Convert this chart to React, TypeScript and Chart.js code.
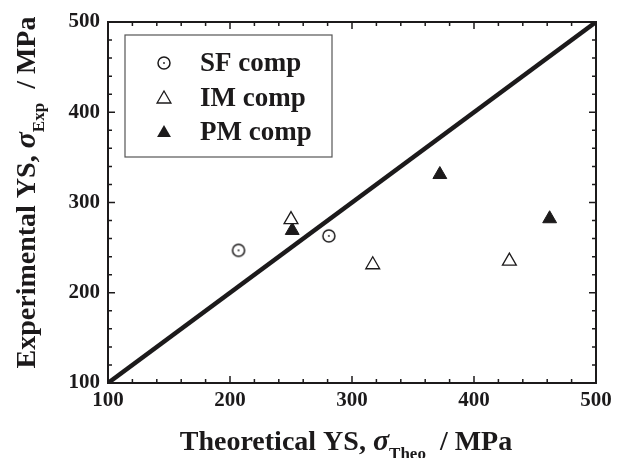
import React, { useEffect, useRef } from "react";
import { Chart, registerables } from "chart.js";

Chart.register(...registerables);

// ---- data ----
const SERIES_LABELS = ["SF comp", "IM comp", "PM comp"];
const SF_X = [207, 281];
const SF_Y = [247, 263];
const IM_X = [250, 317, 429];
const IM_Y = [281, 231, 235];
const PM_X = [251, 372, 462];
const PM_Y = [269, 331, 282];
const DIAG_X = [100, 500];
const DIAG_Y = [100, 500];
const X_TICKS = [100, 200, 300, 400, 500];
const Y_TICKS = [100, 200, 300, 400, 500];
const MINOR_STEP = 20;
const X_TITLE = ["Theoretical YS, ", "σ", "Theo", "  / MPa"];
const Y_TITLE = ["Experimental YS, ", "σ", "Exp", "  / MPa"];

const INK = "#1c1a1b";
const FONT = "'Liberation Serif', 'Times New Roman', serif";

function pts(xs: number[], ys: number[]) {
  return xs.map((x, i) => ({ x, y: ys[i] }));
}

function makeCircleDot(): HTMLCanvasElement {
  const c = document.createElement("canvas");
  c.width = 16;
  c.height = 16;
  const g = c.getContext("2d")!;
  g.fillStyle = "#fff";
  g.strokeStyle = INK;
  g.lineWidth = 1.5;
  g.beginPath();
  g.arc(8, 8, 6, 0, Math.PI * 2);
  g.fill();
  g.stroke();
  g.fillStyle = INK;
  g.beginPath();
  g.arc(8, 8, 0.9, 0, Math.PI * 2);
  g.fill();
  return c;
}

function drawTriangle(ctx: CanvasRenderingContext2D, x: number, y: number, r: number, filled: boolean) {
  ctx.beginPath();
  for (let i = 0; i < 3; i++) {
    const ang = (i * 2 * Math.PI) / 3;
    const px = x + Math.sin(ang) * r;
    const py = y - Math.cos(ang) * r;
    if (i === 0) ctx.moveTo(px, py);
    else ctx.lineTo(px, py);
  }
  ctx.closePath();
  if (filled) {
    ctx.fillStyle = INK;
    ctx.fill();
  } else {
    ctx.fillStyle = "#fff";
    ctx.fill();
    ctx.strokeStyle = INK;
    ctx.lineWidth = 1.3;
    ctx.stroke();
  }
}

type Part = { text: string; font: string; dy: number };

function drawRich(ctx: CanvasRenderingContext2D, parts: Part[], cx: number, baseY: number) {
  let total = 0;
  for (const p of parts) {
    ctx.font = p.font;
    total += ctx.measureText(p.text).width;
  }
  let x = cx - total / 2;
  ctx.textAlign = "left";
  ctx.textBaseline = "alphabetic";
  ctx.fillStyle = INK;
  for (const p of parts) {
    ctx.font = p.font;
    ctx.fillText(p.text, x, baseY + p.dy);
    x += ctx.measureText(p.text).width;
  }
}

function titleParts(t: string[]): Part[] {
  return [
    { text: t[0], font: `bold 28px ${FONT}`, dy: 0 },
    { text: t[1], font: `italic bold 30px ${FONT}`, dy: 0 },
    { text: t[2], font: `bold 17px ${FONT}`, dy: 9 },
    { text: t[3], font: `bold 28px ${FONT}`, dy: 0 },
  ];
}

const framePlugin = {
  id: "frameTicks",
  afterDatasetsDraw(chart: any) {
    const { ctx, chartArea: a, scales } = chart;
    const xs = scales.x;
    const ys = scales.y;
    ctx.save();
    ctx.strokeStyle = INK;
    ctx.lineWidth = 1.5;
    ctx.beginPath();
    const x0 = X_TICKS[0];
    const x1 = X_TICKS[X_TICKS.length - 1];
    for (let v = x0; v <= x1; v += MINOR_STEP) {
      const len = X_TICKS.includes(v) ? 7 : 4;
      const px = xs.getPixelForValue(v);
      ctx.moveTo(px, a.bottom);
      ctx.lineTo(px, a.bottom - len);
      ctx.moveTo(px, a.top);
      ctx.lineTo(px, a.top + len);
    }
    const y0 = Y_TICKS[0];
    const y1 = Y_TICKS[Y_TICKS.length - 1];
    for (let v = y0; v <= y1; v += MINOR_STEP) {
      const len = Y_TICKS.includes(v) ? 7 : 4;
      const py = ys.getPixelForValue(v);
      ctx.moveTo(a.left, py);
      ctx.lineTo(a.left + len, py);
      ctx.moveTo(a.right, py);
      ctx.lineTo(a.right - len, py);
    }
    ctx.stroke();
    ctx.lineWidth = 2;
    ctx.strokeRect(a.left, a.top, a.right - a.left, a.bottom - a.top);

    // legend
    const lx = a.left + 17;
    const ly = a.top + 13;
    const lw = 207;
    const lh = 122;
    ctx.fillStyle = "#fff";
    ctx.fillRect(lx, ly, lw, lh);
    ctx.strokeStyle = "#555";
    ctx.lineWidth = 1.2;
    ctx.strokeRect(lx, ly, lw, lh);
    const rows = [ly + 28, ly + 63, ly + 97];
    const circ = chart.data.datasets[0].pointStyle as HTMLCanvasElement;
    SERIES_LABELS.forEach((lab, i) => {
      const cy = rows[i];
      const mx = lx + 39;
      if (i === 0) ctx.drawImage(circ, Math.round(mx - circ.width / 2), Math.round(cy - circ.height / 2));
      else drawTriangle(ctx, mx, cy + 1, 8, i === 2);
      ctx.fillStyle = INK;
      ctx.font = `bold 27px ${FONT}`;
      ctx.textAlign = "left";
      ctx.textBaseline = "middle";
      ctx.fillText(lab, lx + 75, cy + 1);
    });

    // axis titles
    drawRich(ctx, titleParts(X_TITLE), (a.left + a.right) / 2 - 6, 450);
    ctx.save();
    ctx.translate(35, (a.top + a.bottom) / 2 - 10);
    ctx.rotate(-Math.PI / 2);
    drawRich(ctx, titleParts(Y_TITLE), 0, 0);
    ctx.restore();
    ctx.restore();
  },
};

export default function App() {
  const ref = useRef<HTMLCanvasElement>(null);
  useEffect(() => {
    if (!ref.current) return;
    const circle = makeCircleDot();
    const tickFont = { family: FONT, size: 21, weight: "bold" as const };
    const chart = new Chart(ref.current, {
      type: "scatter",
      data: {
        datasets: [
          {
            label: SERIES_LABELS[0],
            data: pts(SF_X, SF_Y),
            pointStyle: circle as any,
            pointRadius: 6,
            order: 0,
          },
          {
            label: SERIES_LABELS[1],
            data: pts(IM_X, IM_Y),
            pointStyle: "triangle",
            pointRadius: 8,
            borderColor: INK,
            backgroundColor: "#fff",
            borderWidth: 1.3,
            order: 0,
          },
          {
            label: SERIES_LABELS[2],
            data: pts(PM_X, PM_Y),
            pointStyle: "triangle",
            pointRadius: 8,
            borderColor: INK,
            backgroundColor: INK,
            borderWidth: 1,
            order: 0,
          },
          {
            label: "y = x",
            data: pts(DIAG_X, DIAG_Y),
            showLine: true,
            borderColor: INK,
            borderWidth: 4.5,
            pointRadius: 0,
            order: 10,
          } as any,
        ],
      },
      options: {
        animation: false,
        responsive: false,
        events: [],
        layout: { padding: { top: 22, right: 27, left: 0, bottom: 0 } },
        plugins: { legend: { display: false }, tooltip: { enabled: false } },
        scales: {
          x: {
            type: "linear",
            min: X_TICKS[0],
            max: X_TICKS[X_TICKS.length - 1],
            grid: { display: false, drawTicks: false },
            border: { display: false },
            ticks: { stepSize: 100, color: INK, font: tickFont, padding: 5, maxRotation: 0 },
            afterFit: (s: any) => {
              s.height = 75;
            },
          },
          y: {
            type: "linear",
            min: Y_TICKS[0],
            max: Y_TICKS[Y_TICKS.length - 1],
            grid: { display: false, drawTicks: false },
            border: { display: false },
            ticks: { stepSize: 100, color: INK, font: tickFont, padding: 8 },
            afterFit: (s: any) => {
              s.width = 108;
            },
          },
        },
      },
      plugins: [framePlugin],
    });
    return () => chart.destroy();
  }, []);
  return (
    <div style={{ position: "fixed", left: 0, top: 0, width: 623, height: 458, background: "#fff" }}>
      <canvas ref={ref} width={623} height={458} style={{ display: "block" }} />
    </div>
  );
}
